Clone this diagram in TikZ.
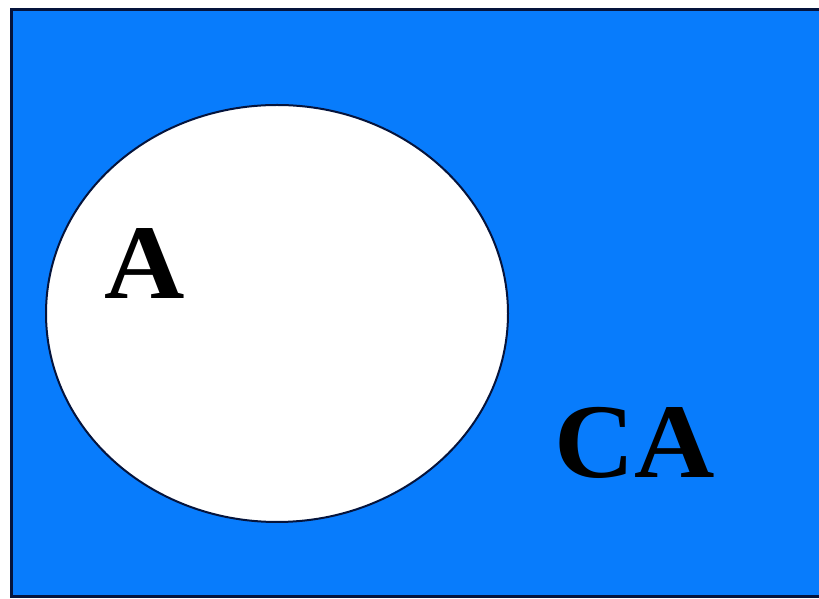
\documentclass[tikz,border=0pt]{standalone}
\usepackage{fontspec}
\setmainfont{Liberation Serif}
\definecolor{setblue}{RGB}{8,124,252}
\definecolor{edge}{RGB}{5,20,60}
\tikzset{
  frame/.style={draw=edge, line width=3pt, fill=setblue},
  setA/.style={draw=edge, line width=2pt, fill=white},
  lbl/.style={font=\fontsize{106}{110}\selectfont\bfseries, text=black, inner sep=0pt, anchor=base, xscale=1.05}
}
\begin{document}
\begin{tikzpicture}[x=1pt,y=1pt]
\useasboundingbox (0,0) rectangle (819,599);
\clip (0,0) rectangle (819,599);
\fill[white] (0,0) rectangle (819,599);
\draw[frame] (11,2) rectangle (830,589);
\draw[setA] (277,285.5) ellipse [x radius=231, y radius=208.5];
\node[lbl] (a) at (145,300) {A};
\node[lbl] (ca) at (635,121) {CA};
\end{tikzpicture}
\end{document}
